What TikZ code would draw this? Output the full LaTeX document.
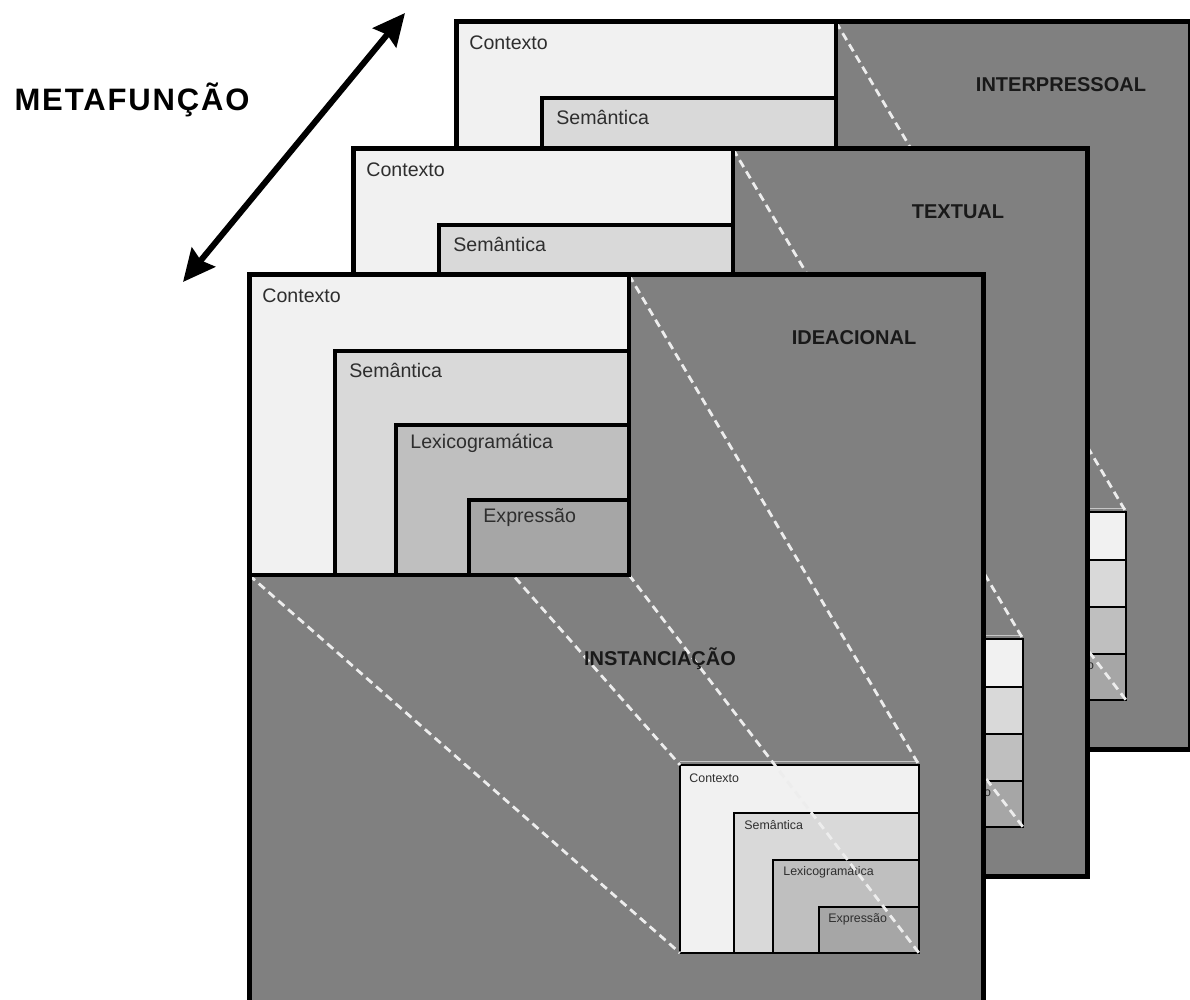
\documentclass[tikz,border=0pt]{standalone}
\usepackage{fontspec}
\setmainfont{Liberation Sans}
\usetikzlibrary{arrows.meta}

\definecolor{panelgray}{gray}{0.50}
\definecolor{ctxtone}{gray}{0.945}
\definecolor{semtone}{gray}{0.85}
\definecolor{lextone}{gray}{0.75}
\definecolor{exptone}{gray}{0.65}
\definecolor{guidetone}{gray}{0.93}
\definecolor{inktone}{gray}{0.18}

\tikzset{
  panelframe/.style={draw=black, line width=2.5pt},
  bigrule/.style={draw=black, line width=2pt},
  smallrule/.style={draw=black, line width=1.1pt},
  rimline/.style={draw=gray!45, line width=0.8pt},
  guideline/.style={draw=guidetone, line width=1.4pt, dash pattern=on 4pt off 2.5pt},
  bigtext/.style={anchor=west, inner sep=0pt, text=inktone, font=\fontsize{9.8}{11}\selectfont},
  smalltext/.style={anchor=west, inner sep=0pt, text=inktone, font=\fontsize{6.2}{7}\selectfont},
  titletext/.style={inner sep=0pt, text=black!90, font=\fontsize{10}{12}\selectfont\bfseries},
  bothways/.style={line width=3pt, {Stealth[length=16pt,width=15pt,inset=2pt]}-{Stealth[length=16pt,width=15pt,inset=2pt]}}
}

% One layer: #1 name prefix, #2/#3 top-left corner, #4 title, #5 = 1 for the front layer
\newcommand\drawlayer[5]{%
  \begin{scope}[shift={(#2,#3)}]
    \fill[panelgray] (0,0) rectangle (734,727);
    % reduced copy of the strata, lower right
    \coordinate (#1-s-nw) at (431,490);
    \coordinate (#1-s-ne) at (670,490);
    \coordinate (#1-s-sw) at (431,678);
    \coordinate (#1-s-se) at (670,678);
    \draw[rimline] (431,486.5) -- (670,486.5);
    \filldraw[fill=ctxtone, smallrule] (#1-s-nw) rectangle (#1-s-se);
    \filldraw[fill=semtone, smallrule] (485,538) rectangle (#1-s-se);
    \filldraw[fill=lextone, smallrule] (524,585) rectangle (#1-s-se);
    \filldraw[fill=exptone, smallrule] (570,632) rectangle (#1-s-se);
    \ifnum#5=1
      \node[smalltext] (#1-s-ctx) at (440,503) {Contexto};
      \node[smalltext] (#1-s-sem) at (495,550) {Semântica};
      \node[smalltext] (#1-s-lex) at (534,597) {Lexicogramática};
    \fi
    \node[smalltext] (#1-s-exp) at (579,644) {Expressão};
    % full strata, upper left
    \coordinate (#1-b-nw) at (0,0);
    \coordinate (#1-b-ne) at (380,0);
    \coordinate (#1-b-sw) at (0,300);
    \coordinate (#1-b-se) at (380,300);
    % projection guides
    \draw[guideline] (#1-b-nw) -- (#1-s-nw);
    \draw[guideline] (#1-b-ne) -- (#1-s-ne);
    \draw[guideline] (#1-b-sw) -- (#1-s-sw);
    \draw[guideline] (#1-b-se) -- (#1-s-se);
    \filldraw[fill=ctxtone, bigrule] (#1-b-nw) rectangle (#1-b-se);
    \filldraw[fill=semtone, bigrule] (86,76) rectangle (#1-b-se);
    \filldraw[fill=lextone, bigrule] (147,150) rectangle (#1-b-se);
    \filldraw[fill=exptone, bigrule] (220,225) rectangle (#1-b-se);
    \node[bigtext] (#1-b-ctx) at (13,21) {Contexto};
    \node[bigtext] (#1-b-sem) at (100,95) {Semântica};
    \ifnum#5=1
      \node[bigtext] (#1-b-lex) at (161,168) {Lexicogramática};
      \node[bigtext] (#1-b-exp) at (234,243) {Expressão};
      \node[titletext] (#1-inst) at (411,384) {INSTANCIAÇÃO};
    \fi
    \node[titletext] (#1-title) at (605,63) {#4};
    \draw[panelframe] (0,0) rectangle (734,727);
  \end{scope}%
}

\begin{document}
\begin{tikzpicture}[x=0.5pt, y=-0.5pt]
  \useasboundingbox (0,0) rectangle (1190,1000);
  \clip (0,0) rectangle (1190,1000);

  \drawlayer{inter}{456}{22}{INTERPRESSOAL}{0}
  \drawlayer{text}{353}{149}{TEXTUAL}{0}
  \drawlayer{idea}{249}{275}{IDEACIONAL}{1}

  % metafunction axis
  \node[inner sep=0pt, font=\fontsize{15.5}{17}\selectfont\bfseries\addfontfeatures{LetterSpace=6}] (metaf) at (132,100) {METAFUNÇÃO};
  \coordinate (axislow) at (183,282);
  \coordinate (axishigh) at (405,13);
  \draw[bothways] (axislow) -- (axishigh);
\end{tikzpicture}
\end{document}
